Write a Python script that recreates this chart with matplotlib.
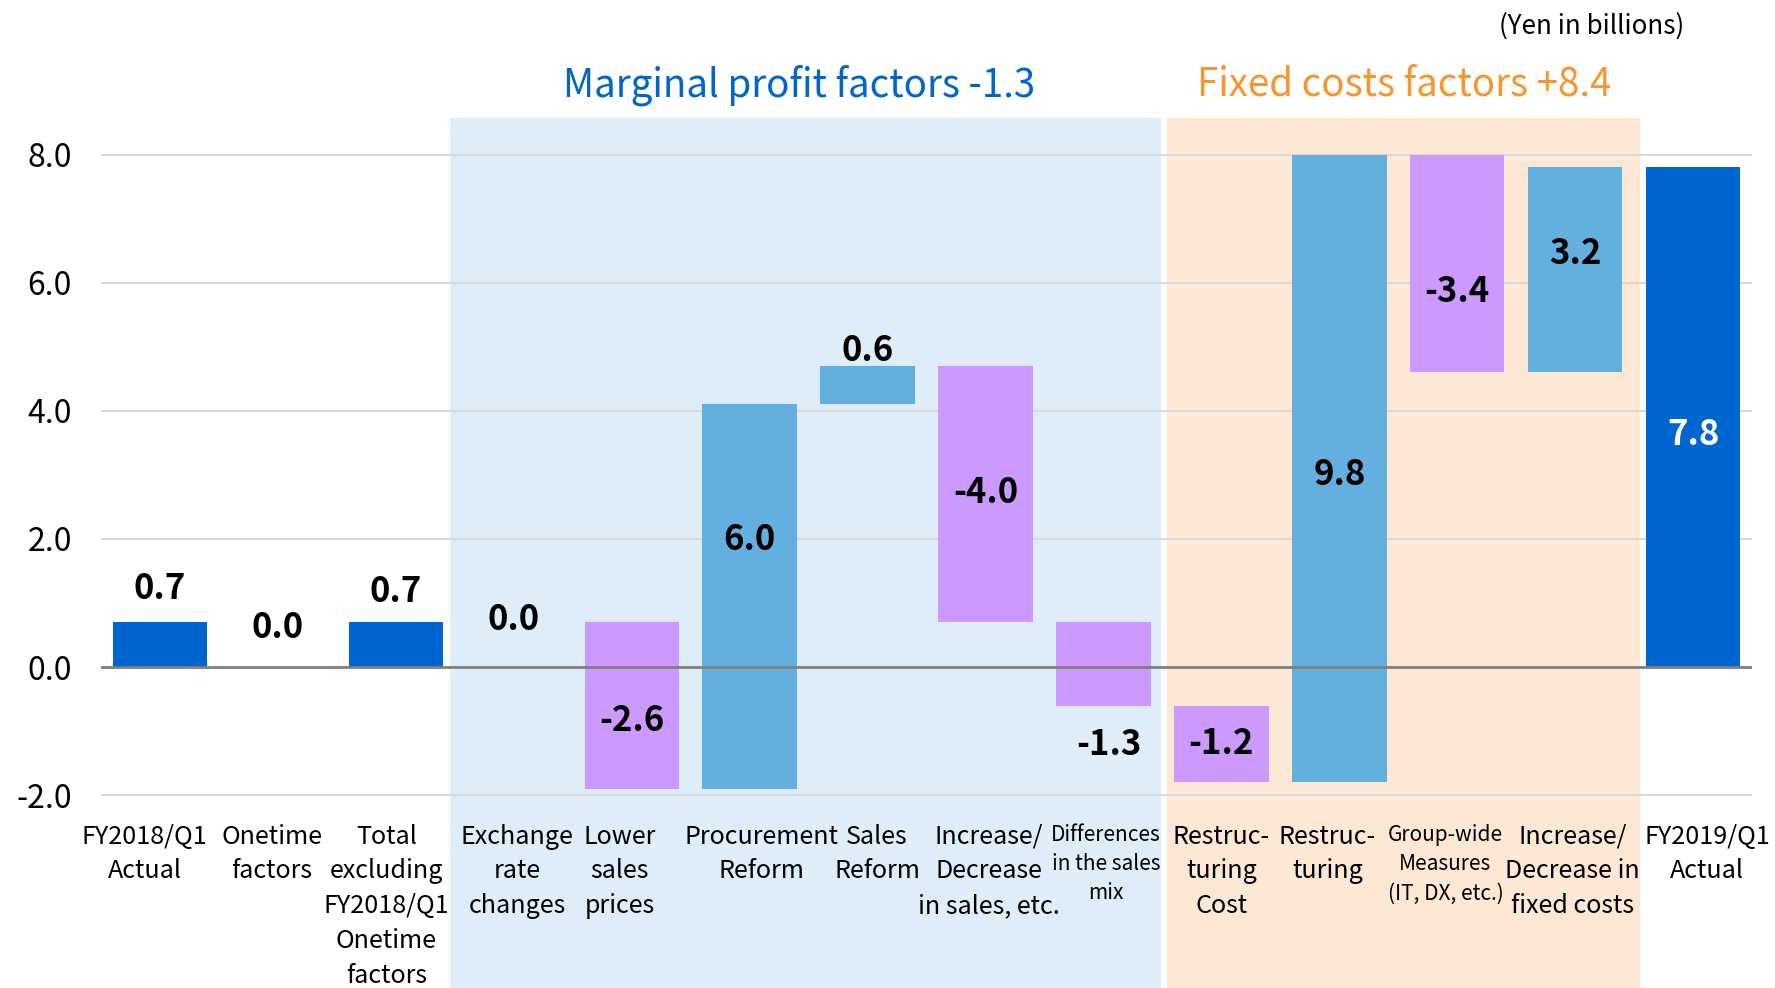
import numpy as np
import matplotlib
matplotlib.use("Agg")
import matplotlib.pyplot as plt
from matplotlib.transforms import blended_transform_factory

plt.rcParams['font.family'] = ['Noto Sans CJK JP', 'DejaVu Sans']

# data
categories = ['FY2018/Q1\nActual', 'Onetime\nfactors',
              'Total\nexcluding\nFY2018/Q1\nOnetime\nfactors',
              'Exchange\nrate\nchanges', 'Lower\nsales\nprices',
              'Procurement\nReform', 'Sales\nReform',
              'Increase/\nDecrease\nin sales, etc.',
              'Differences\nin the sales\nmix',
              'Restruc-\nturing\nCost', 'Restruc-\nturing',
              'Group-wide\nMeasures\n(IT, DX, etc.)',
              'Increase/\nDecrease in\nfixed costs',
              'FY2019/Q1\nActual']
values = [0.7, 0.0, 0.7, 0.0, -2.6, 6.0, 0.6, -4.0, -1.3, -1.2, 9.8, -3.4, 3.2, 7.8]
kinds = ['total', 'step', 'total', 'step', 'step', 'step', 'step', 'step',
         'step', 'step', 'step', 'step', 'step', 'total']
group_titles = ['Marginal profit factors -1.3', 'Fixed costs factors +8.4']
unit_note = '(Yen in billions)'

# layout / style
label_y = [1.22, 0.62, 1.18, 0.74, -0.84, 1.99, 4.95, 2.73, -1.21, -1.19, 3.01, 5.86, 6.45, 3.63]
label_dx = [0, 0, 0, 0, 0, 0, 0, 0, 0.05, 0, 0, 0, 0, 0]
cat_dx = [-0.13, -0.05, -0.08, 0.03, -0.1, 0.1, 0.08, 0.03, 0.02, 0, -0.1, -0.1, -0.02, 0.12]
cat_size = [18.1] * 14
cat_size[8] = 15
cat_size[11] = 15
c_total = '#0066CF'
c_pos = '#63AFE0'
c_neg = '#CC99FF'

# waterfall bottoms/heights
bottoms, heights, colors = [], [], []
run = 0.0
for v, k in zip(values, kinds):
    if k == 'total':
        run = v
        bottoms.append(0.0)
        heights.append(v)
        colors.append(c_total)
    else:
        bottoms.append(run if v >= 0 else run + v)
        heights.append(abs(v))
        colors.append(c_pos if v >= 0 else c_neg)
        run += v

fig = plt.figure(figsize=(17.75, 9.88), dpi=100)
ax = fig.add_axes([0.0569, 0.1938, 0.9302, 0.651])
ax.set_facecolor('none')

x = np.arange(len(values))
ax.bar(x, heights, bottom=bottoms, width=0.8, color=colors, zorder=3)

# group shading
ax.axvspan(2.456, 8.49, ymin=-0.31, ymax=1.055, color='#DFEDF8', zorder=0, clip_on=False, lw=0)
ax.axvspan(8.535, 12.546, ymin=-0.31, ymax=1.055, color='#FDE8D5', zorder=0, clip_on=False, lw=0)

ax.set_xlim(-0.5, 13.5)
ax.set_ylim(-2.02, 8.02)
ax.set_yticks([-2, 0, 2, 4, 6, 8])
ax.set_yticklabels(['-2.0', '0.0', '2.0', '4.0', '6.0', '8.0'], fontsize=23)
ax.tick_params(axis='y', length=0, pad=21)
ax.set_xticks([])
ax.grid(axis='y', color='#D9D9D9', lw=1.5, zorder=1)
ax.axhline(0, color='#808080', lw=2, zorder=4)
for s in ax.spines.values():
    s.set_visible(False)

for i, v in enumerate(values):
    col = 'white' if i == 13 else 'black'
    ax.text(i + label_dx[i], label_y[i], f'{v:.1f}', ha='center', va='center',
            fontsize=25, fontweight='bold', color=col, zorder=5)

tr = blended_transform_factory(ax.transData, ax.transAxes)
for i, c in enumerate(categories):
    ax.text(i + cat_dx[i], -0.042, c, transform=tr, ha='center', va='top',
            fontsize=cat_size[i], linespacing=1.44, zorder=5)

fig.text(0.450, 0.914, group_titles[0], ha='center', va='center', fontsize=27.7, color='#0066CC')
fig.text(0.791, 0.914, group_titles[1], ha='center', va='center', fontsize=27.7, color='#F7962F')
fig.text(0.9487, 0.974, unit_note, ha='right', va='center', fontsize=18.7)

fig.savefig('out.png', dpi=100)
